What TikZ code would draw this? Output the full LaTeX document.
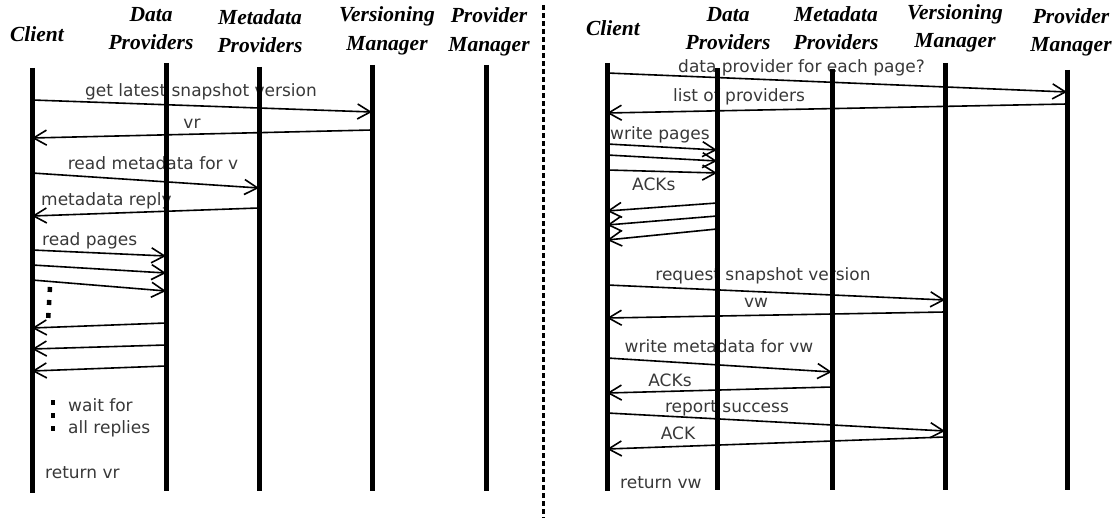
\documentclass[tikz,border=0pt]{standalone}
\usepackage{fontspec}
\setmainfont{Liberation Serif}
\newfontfamily\msgfont{DejaVu Sans}
\usetikzlibrary{arrows.meta,calc}

\begin{document}
\begin{tikzpicture}[x=1pt,y=-1pt,
  head/.style={font=\fontsize{21.5}{26}\selectfont\bfseries\itshape, inner sep=0, anchor=base},
  lbl/.style={font=\msgfont\fontsize{17}{19}\selectfont, text=black!78, inner sep=0, anchor=base},
  lblw/.style={lbl, anchor=base west},
  life/.style={line width=5pt},
  msg/.style={line width=1.6pt, -{Straight Barb[length=13pt,width=15pt,line width=1.6pt]}},
  dots/.style={line width=4.5pt, dash pattern=on 5pt off 8pt},
  sep/.style={line width=3pt, dash pattern=on 5pt off 3pt}]

\useasboundingbox (0,0) rectangle (1118,518);

% ---------- lifeline positions ----------
\coordinate (L1) at (32,0);   \coordinate (L2) at (166,0);
\coordinate (L3) at (259,0);  \coordinate (L4) at (372,0);
\coordinate (L5) at (486,0);
\coordinate (R1) at (607,0);  \coordinate (R2) at (717,0);
\coordinate (R3) at (832,0);  \coordinate (R4) at (945,0);
\coordinate (R5) at (1067,0);

% ---------- headings: read operation ----------
\node[head] (hLc)  at (37,42)  {Client};
\node[head] (hLd1) at (151,22) {Data};
\node[head] (hLd2) at (151,50) {Providers};
\node[head] (hLm1) at (260,25) {Metadata};
\node[head] (hLm2) at (260,53) {Providers};
\node[head] (hLv1) at (387,22) {Versioning};
\node[head] (hLv2) at (387,51) {Manager};
\node[head] (hLp1) at (489,23) {Provider};
\node[head] (hLp2) at (489,52) {Manager};

% ---------- headings: write operation ----------
\node[head] (hRc)  at (613,36) {Client};
\node[head] (hRd1) at (728,22) {Data};
\node[head] (hRd2) at (728,50) {Providers};
\node[head] (hRm1) at (836,22) {Metadata};
\node[head] (hRm2) at (836,50) {Providers};
\node[head] (hRv1) at (955,20) {Versioning};
\node[head] (hRv2) at (955,48) {Manager};
\node[head] (hRp1) at (1071,24) {Provider};
\node[head] (hRp2) at (1071,52) {Manager};

% ---------- message labels: read ----------
\node[lbl]  (a1) at (201,97)  {get latest snapshot version};
\node[lbl]  (a2) at (192,129) {vr};
\node[lbl]  (a3) at (153,170) {read metadata for v};
\node[lblw] (a4) at (41,206)  {metadata reply};
\node[lblw] (a5) at (42,246)  {read pages};
\node[lblw] (a6) at (68,411)  {wait for};
\node[lblw] (a7) at (68,433)  {all replies};
\node[lblw] (a8) at (45,478)  {return vr};

% ---------- message labels: write ----------
\node[lblw] (b1) at (678,73)  {data provider for each page?};
\node[lbl]  (b2) at (739,102) {list of providers};
\node[lblw] (b3) at (610,140) {write pages};
\node[lblw] (b4) at (632,191) {ACKs};
\node[lbl]  (b5) at (763,281) {request snapshot version};
\node[lbl]  (b6) at (756,308) {vw};
\node[lbl]  (b7) at (719,352) {write metadata for vw};
\node[lbl]  (b8) at (670,386) {ACKs};
\node[lbl]  (b9) at (727,412) {report success};
\node[lbl]  (b10) at (678,439) {ACK};
\node[lblw] (b11) at (620,488) {return vw};

% ---------- messages: read ----------
\draw[msg] ($(L1)+(0,100)$) -- ($(L4)+(0,112)$);
\draw[msg] ($(L4)+(0,130)$) -- ($(L1)+(0,138)$);
\draw[msg] ($(L1)+(0,173)$) -- ($(L3)+(0,188)$);
\draw[msg] ($(L3)+(0,208)$) -- ($(L1)+(0,216)$);
\draw[msg] ($(L1)+(0,250)$) -- ($(L2)+(0,256)$);
\draw[msg] ($(L1)+(0,265)$) -- ($(L2)+(0,273)$);
\draw[msg] ($(L1)+(0,280)$) -- ($(L2)+(0,291)$);
\draw[msg] ($(L2)+(0,323)$) -- ($(L1)+(0,328)$);
\draw[msg] ($(L2)+(0,345)$) -- ($(L1)+(0,349)$);
\draw[msg] ($(L2)+(0,366)$) -- ($(L1)+(0,371)$);
\draw[dots] ($(L1)+(18,287)$) -- ($(L1)+(16,322)$);
\draw[dots] ($(L1)+(21,400)$) -- ($(L1)+(21,433)$);

% ---------- messages: write ----------
\draw[msg] ($(R1)+(0,73)$)  -- ($(R5)+(0,92)$);
\draw[msg] ($(R5)+(0,104)$) -- ($(R1)+(0,113)$);
\draw[msg] ($(R1)+(0,144)$) -- ($(R2)+(0,150)$);
\draw[msg] ($(R1)+(0,155)$) -- ($(R2)+(0,161)$);
\draw[msg] ($(R1)+(0,170)$) -- ($(R2)+(0,173)$);
\draw[msg] ($(R2)+(0,203)$) -- ($(R1)+(0,211)$);
\draw[msg] ($(R2)+(0,216)$) -- ($(R1)+(0,225)$);
\draw[msg] ($(R2)+(0,229)$) -- ($(R1)+(0,240)$);
\draw[msg] ($(R1)+(0,285)$) -- ($(R4)+(0,300)$);
\draw[msg] ($(R4)+(0,312)$) -- ($(R1)+(0,318)$);
\draw[msg] ($(R1)+(0,358)$) -- ($(R3)+(0,372)$);
\draw[msg] ($(R3)+(0,387)$) -- ($(R1)+(0,393)$);
\draw[msg] ($(R1)+(0,413)$) -- ($(R4)+(0,431)$);
\draw[msg] ($(R4)+(0,437)$) -- ($(R1)+(0,449)$);

% ---------- lifelines ----------
\draw[life] ($(L1)+(0,68)$) -- ($(L1)+(0,493)$);
\draw[life] ($(L2)+(0,63)$) -- ($(L2)+(0,491)$);
\draw[life] ($(L3)+(0,67)$) -- ($(L3)+(0,491)$);
\draw[life] ($(L4)+(0,65)$) -- ($(L4)+(0,491)$);
\draw[life] ($(L5)+(0,65)$) -- ($(L5)+(0,491)$);
\draw[life] ($(R1)+(0,63)$) -- ($(R1)+(0,491)$);
\draw[life] ($(R2)+(0,68)$) -- ($(R2)+(0,490)$);
\draw[life] ($(R3)+(0,69)$) -- ($(R3)+(0,490)$);
\draw[life] ($(R4)+(0,63)$) -- ($(R4)+(0,490)$);
\draw[life] ($(R5)+(0,70)$) -- ($(R5)+(0,490)$);

% ---------- separator between the two operations ----------
\coordinate (sTop) at (543,5);
\coordinate (sBot) at (543,518);
\draw[sep] (sTop) -- (sBot);
\end{tikzpicture}
\end{document}
